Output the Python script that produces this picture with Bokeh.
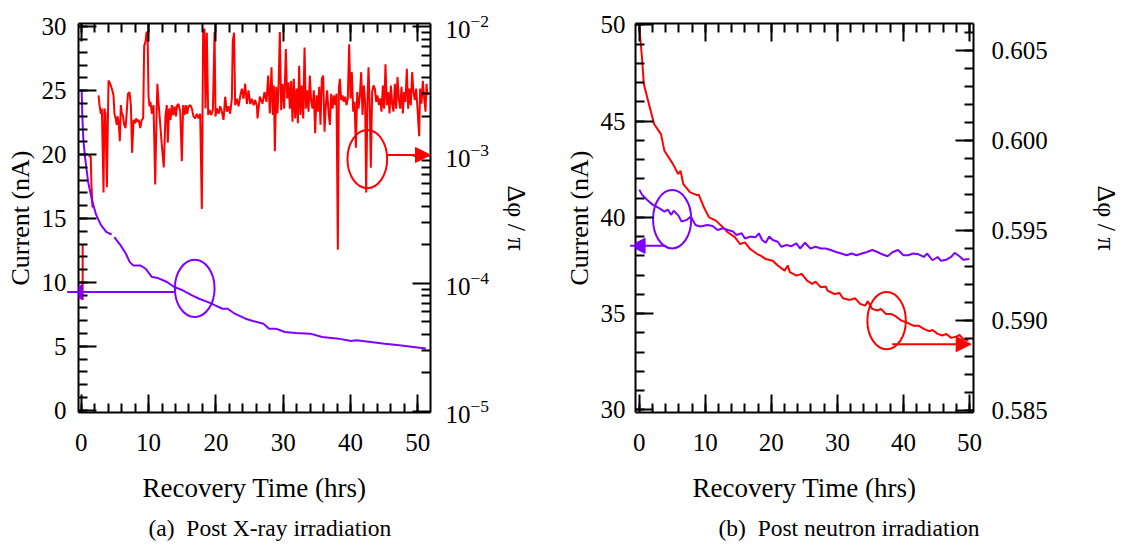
from bokeh.plotting import figure
from bokeh.layouts import row
from bokeh.models import (Range1d, LinearAxis, LogAxis, LogScale, FixedTicker, Title,
                          Arrow, NormalHead, NumeralTickFormatter, LogTickFormatter)
from bokeh.embed import file_html
from bokeh.resources import INLINE

nan = float("nan")

# ---------------- data: (a) post X-ray irradiation ----------------
xray_cur_t = [0.05, 0.15, 0.3, 0.55, 1.0, 1.6, 2.2, 2.9, 3.7, 4.5, nan,
              4.9, 5.84, 6.63, 7.2, 7.7, 8.76, 9.55, 10.5, 11.4, 12.74,
              13.8, 14.86, 16.45, 17.5, 18.84, 19.9, 20.97, 21.76, 22.8, 24.4,
              25.5, 27.07, 27.9, 28.9, 30.25, 31.85, 34.0, 35.8, 38.2, 40.1,
              40.87, 43.0, 45.1, 47.24, 49.36, 51.2]
xray_cur = [25.1, 23.0, 21.2, 19.8, 17.9, 16.4, 15.3, 14.5, 13.95, 13.75, nan,
            13.54, 12.9, 12.24, 11.59, 11.33, 11.33, 11.07, 10.42, 10.34, 10.03,
            9.64, 9.43, 8.98, 8.72, 8.46, 8.2, 7.94, 7.94, 7.55, 7.16,
            6.98, 6.77, 6.38, 6.38, 6.12, 6.04, 5.99, 5.73, 5.6, 5.42,
            5.47, 5.34, 5.2, 5.08, 4.95, 4.82]

xray_ph_t = [
    0.2, 0.2, nan, 1.07, 1.4, 1.5, 1.66, nan,
    2.56, 2.7, 2.9, 3.05, 3.3, 3.42, 3.6, 3.8, 4.04, 4.29,
    4.54, 4.78, 4.93, 5.1, 5.27, 5.4, 5.58, 5.72, 5.87, 6.02,
    6.17, 6.37, 6.57, 6.72, 6.92, 7.16, 7.36, 7.55, 7.76, 8.0,
    8.15, 8.35, 8.55, 8.75, 8.99, 9.19, 9.34, 9.54, 9.69, 9.84,
    9.99, 10.13, 10.28, 10.48, 10.73, 10.98, 11.17, 11.3, 11.47, 12.0,
    12.25, 12.5, 12.7, 12.85, 13.05, 13.25, 13.45, 13.65, 13.85, 14.05,
    14.25, 14.44, 14.7, 14.94, 15.13, 15.33, 15.53, 15.73, 15.93, 16.2,
    16.42, 16.67, 16.92, 17.17, 17.42, 17.66, 17.91, 18.1, 18.3, 18.45,
    18.65, 18.85, 19.05, 19.3, 19.55, 19.8, 19.94, 20.13, 20.4, 20.63,
    20.88, 21.13, 21.38, 21.62, 21.87, 22.12, 22.37, 22.5, 22.7, 22.86,
    23.1, 23.36, 23.6, 23.85, 24.1, 24.35, 24.6, 24.84, 25.1, 25.34,
    25.6, 25.83, 26.1, 26.18, 26.53, 26.93, 27.22, 27.52, 27.77, 28.02,
    28.26, 28.46, 28.61, 28.76, 28.96, 29.15, 29.3, 29.5, 29.7, 29.9,
    30.15, 30.39, 30.59, 30.79, 30.99, 31.19, 31.38, 31.58, 31.78, 31.98,
    32.18, 32.37, 32.57, 32.77, 32.97, 33.17, 33.36, 33.56, 33.76, 33.96,
    34.16, 34.36, 34.55, 34.75, 34.95, 35.15, 35.35, 35.54, 35.74, 35.94,
    36.14, 36.34, 36.53, 36.73, 36.93, 37.13, 37.33, 37.53, 37.72, 37.92,
    38.12, 38.27, 38.42, 38.62, 38.81, 39.01, 39.21, 39.41, 39.6, 39.8,
    40.0, 40.2, 40.4, 40.6, 40.8, 41.0, 41.19, 41.39, 41.59, 41.79,
    41.98, 42.18, 42.33, 42.53, 42.68, 42.87, 43.02, 43.22, 43.42, 43.62,
    43.82, 44.01, 44.21, 44.41, 44.61, 44.81, 45.0, 45.2, 45.4, 45.6,
    45.8, 46.0, 46.19, 46.39, 46.59, 46.79, 46.99, 47.18, 47.38, 47.58,
    47.78, 47.97, 48.17, 48.37, 48.57, 48.77, 48.97, 49.16, 49.36, 49.56,
    49.76, 49.96, 50.2, 50.35, 50.55, 50.75, 50.95, 51.15, 51.3, 51.44,
]
xray_ph = [
    2.0e-4, 7.4e-5, nan, 9.8e-4, 9.8e-4, 5.9e-4, 3.9e-4, nan,
    2.92e-3, 2.45e-3, 2.1e-3, 2.31e-3, 5.1e-4, 2.31e-3, 2.1e-3, 5.6e-4, 3.82e-3, 3.6e-3,
    3.29e-3, 2.92e-3, 2.1e-3, 1.93e-3, 1.72e-3, 2.0e-3, 1.72e-3, 1.28e-3, 2.45e-3, 2.1e-3,
    2.05e-3, 1.72e-3, 1.62e-3, 2.05e-3, 3.0e-3, 3.1e-3, 2.45e-3, 1.04e-3, 1.88e-3, 1.77e-3,
    1.93e-3, 1.82e-3, 1.88e-3, 1.62e-3, 1.88e-3, 1.93e-3, 7.1e-3, 7.7e-3, 9.1e-3, 9.0e-3,
    2.85e-3, 2.4e-3, 2.6e-3, 2.1e-3, 2.45e-3, 5.9e-4, 1.93e-3, 3.6e-3, 2.6e-3, 1.13e-3,
    8.0e-4, 2.0e-3, 2.45e-3, 1.25e-3, 2.31e-3, 1.88e-3, 2.45e-3, 2.05e-3, 2.4e-3, 2.0e-3,
    2.45e-3, 2.5e-3, 2.18e-3, 8.95e-4, 2.45e-3, 2.05e-3, 2.45e-3, 2.1e-3, 2.4e-3, 2.45e-3,
    2.31e-3, 2.0e-3, 1.93e-3, 2.1e-3, 1.93e-3, 2.1e-3, 3.8e-4, 8.8e-3, 9.7e-3, 2.31e-3,
    9.0e-3, 2.05e-3, 2.25e-3, 2.05e-3, 2.25e-3, 9.1e-3, 2.0e-3, 2.31e-3, 2.1e-3, 2.4e-3,
    2.18e-3, 1.88e-3, 2.85e-3, 2.18e-3, 2.4e-3, 2.1e-3, 2.75e-3, 7.7e-3, 9.0e-3, 2.45e-3,
    2.75e-3, 2.4e-3, 2.85e-3, 3.29e-3, 2.75e-3, 3.6e-3, 2.5e-3, 3.2e-3, 2.5e-3, 2.75e-3,
    2.45e-3, 2.68e-3, 2.4e-3, 1.93e-3, 2.85e-3, 2.52e-3, 3.1e-3, 2.6e-3, 4.17e-3, 2.11e-3,
    4.83e-3, 2.05e-3, 3.49e-3, 1.07e-3, 3.4e-3, 2.11e-3, 3.3e-3, 9.1e-3, 2.24e-3, 3.6e-3,
    2.3e-3, 6.7e-3, 2.76e-3, 3.7e-3, 2.3e-3, 3.8e-3, 1.82e-3, 3.93e-3, 1.93e-3, 3.3e-3,
    1.77e-3, 4.98e-3, 2.05e-3, 3.49e-3, 1.93e-3, 6.9e-3, 2.3e-3, 3.2e-3, 2.18e-3, 4.17e-3,
    2.6e-3, 2.3e-3, 3.2e-3, 1.48e-3, 2.92e-3, 2.18e-3, 3.4e-3, 1.72e-3, 3.93e-3, 4.17e-3,
    1.52e-3, 2.45e-3, 3.2e-3, 2.18e-3, 1.72e-3, 3.01e-3, 2.3e-3, 2.92e-3, 2.45e-3, 3.01e-3,
    1.82e-4, 3.3e-3, 3.93e-3, 2.68e-3, 2.92e-3, 2.6e-3, 2.85e-3, 2.45e-3, 2.76e-3, 7.3e-3,
    2.76e-3, 4.43e-3, 2.18e-3, 2.6e-3, 1.14e-3, 3.1e-3, 2.3e-3, 2.92e-3, 4.43e-3, 2.05e-3,
    3.49e-3, 2.52e-3, 5.1e-4, 2.76e-3, 4.83e-3, 2.3e-3, 7.96e-4, 3.1e-3, 3.49e-3, 3.3e-3,
    2.6e-3, 2.92e-3, 2.45e-3, 2.76e-3, 2.18e-3, 3.49e-3, 2.3e-3, 5.1e-3, 2.45e-3, 3.1e-3,
    2.11e-3, 3.49e-3, 2.52e-3, 2.18e-3, 3.6e-3, 2.3e-3, 4.05e-3, 2.76e-3, 2.3e-3, 3.4e-3,
    2.11e-3, 3.1e-3, 2.6e-3, 4.7e-3, 2.3e-3, 3.3e-3, 2.45e-3, 4.43e-3, 3.1e-3, 2.68e-3,
    3.3e-3, 2.3e-3, 1.4e-3, 3.3e-3, 2.52e-3, 3.8e-3, 2.76e-3, 2.18e-3, 3.6e-3, 2.92e-3,
]

# ---------------- data: (b) post neutron irradiation ----------------
neut_cur_t = [0, 0.4, 1.2, 2.0, 3.0, 3.8, 4.3, 4.84, 5.2, 5.9,
              6.4, 7.2, 7.8, 8.5, 9.26, 10.3, 11.1, 11.86, 12.64, 13.42,
              14.2, 14.7, 15.5, 16.0, 16.8, 17.6, 18.1, 18.6, 19.15, 19.67,
              20.2, 20.97, 21.5, 22.27, 23.05, 23.8, 24.35, 25.1, 25.9, 26.7,
              27.5, 28.25, 29.0, 29.8, 30.6, 31.4, 32.15, 32.9, 33.7, 34.5,
              35.3, 36.06, 36.8, 37.6, 38.4, 39.2, 40.0, 40.7, 41.5, 42.3,
              43.1, 43.6, 44.4, 45.2, 45.7, 46.5, 47.24, 47.76, 48.5, 49.06,
              50.0]
neut_cur = [41.44, 41.18, 40.9, 40.66, 40.48, 40.3, 40.4, 40.13, 40.34, 40.1,
            39.78, 39.87, 40.04, 39.6, 39.52, 39.6, 39.55, 39.34, 39.43, 39.34,
            39.26, 39.08, 39.17, 38.9, 39.0, 38.96, 39.17, 38.82, 38.68, 39.0,
            38.82, 38.73, 38.47, 38.56, 38.5, 38.65, 38.38, 38.68, 38.38, 38.47,
            38.38, 38.38, 38.3, 38.2, 38.12, 38.03, 38.12, 38.03, 38.12, 38.2,
            38.3, 38.2, 38.08, 37.98, 38.2, 38.3, 38.03, 38.03, 38.12, 38.08,
            37.94, 38.12, 37.77, 37.94, 37.74, 37.8, 37.94, 38.15, 37.98, 37.8,
            37.84]

neut_ph_t = [0, 0.4, 0.68, 1.2, 2.24, 3.28, 3.8, 5.1, 5.88, 6.24,
             6.66, 7.7, 8.74, 9.0, 9.78, 10.56, 11.6, 12.4, 13.4, 14.5,
             15.24, 16.0, 16.8, 17.85, 18.4, 19.1, 20.2, 20.97, 22.0, 22.5,
             22.8, 23.8, 24.6, 25.4, 26.2, 26.7, 27.5, 28.25, 28.5, 29.55,
             30.3, 30.85, 31.9, 32.7, 33.45, 34.2, 34.6, 35.3, 36.06, 36.6,
             37.36, 38.1, 38.66, 39.7, 40.48, 41.5, 42.3, 43.1, 43.86, 44.4,
             45.2, 45.9, 46.5, 47.24, 48.0, 48.5, 49.06, 49.85]
neut_ph = [0.60630, 0.60463, 0.60315, 0.60241, 0.60093, 0.60037, 0.59944, 0.5987, 0.59815, 0.59833,
           0.59759, 0.59713, 0.59698, 0.597, 0.5963, 0.59574, 0.59556, 0.59528, 0.59491, 0.59463,
           0.59426, 0.59435, 0.59398, 0.5937, 0.59361, 0.59343, 0.59333, 0.59306, 0.59278, 0.59306,
           0.59269, 0.5925, 0.5926, 0.59222, 0.59204, 0.59217, 0.59185, 0.59189, 0.59167, 0.59148,
           0.59154, 0.59124, 0.59115, 0.59124, 0.59093, 0.59083, 0.59107, 0.59065, 0.59056, 0.59065,
           0.59037, 0.59037, 0.59028, 0.59, 0.5899, 0.58972, 0.58972, 0.58954, 0.58941, 0.58948,
           0.58926, 0.58917, 0.58926, 0.58904, 0.58911, 0.5892, 0.58898, 0.58889]

assert len(xray_cur_t) == len(xray_cur)
assert len(xray_ph_t) == len(xray_ph)
assert len(neut_cur_t) == len(neut_cur)
assert len(neut_ph_t) == len(neut_ph)

# tick positions and texts
x_major = [0, 10, 20, 30, 40, 50]
x_minor = list(range(0, 53, 2))
xray_y_major = [0, 5, 10, 15, 20, 25, 30]
xray_y_minor = list(range(0, 31))
log_major = [1e-5, 1e-4, 1e-3, 1e-2]
log_minor = [m * 10.0 ** e for e in (-5, -4, -3) for m in range(2, 10)]
neut_y_major = [30, 35, 40, 45, 50]
neut_y_minor = list(range(30, 51))
ph_major = [0.585, 0.590, 0.595, 0.600, 0.605]
ph_minor = [0.585 + 0.001 * i for i in range(22)]

x_label = "Recovery Time (hrs)"
cur_label = "Current (nA)"
ph_label = "Δφ / π"
caption_a = "(a)\u00a0\u00a0Post X-ray irradiation"
caption_b = "(b)\u00a0\u00a0Post neutron irradiation"

FONT = "Liberation Serif"
RED = "#ff0000"
PURPLE = "#8000ff"
TICK_FS = "25px"
YLABEL_FS = "26px"
XLABEL_FS = "27px"
CAP_FS = "23.5px"


def style_axis(ax, labels=True, standoff=12, label=None, label_standoff=5, label_fs=YLABEL_FS):
    ax.axis_line_width = 2
    ax.axis_line_color = "black"
    ax.major_tick_in = 18
    ax.major_tick_out = 0
    ax.minor_tick_in = 9
    ax.minor_tick_out = 0
    ax.major_tick_line_width = 2
    ax.minor_tick_line_width = 2
    ax.major_tick_line_color = "black"
    ax.minor_tick_line_color = "black"
    ax.major_label_text_font = FONT
    ax.major_label_text_color = "black"
    ax.major_label_text_font_size = TICK_FS
    ax.major_label_standoff = standoff
    if not labels:
        ax.major_label_overrides = {t: "" for t in x_major}
        ax.major_label_standoff = 0
    if label is not None:
        ax.axis_label = label
        ax.axis_label_text_font = FONT
        ax.axis_label_text_font_size = label_fs
        ax.axis_label_text_font_style = "normal"
        ax.axis_label_text_color = "black"
        ax.axis_label_standoff = label_standoff


def make_fig(width, xr, yr, bl, br, caption, cap_offset):
    p = figure(width=width, height=547, x_range=xr, y_range=yr,
               output_backend="svg", toolbar_location=None,
               x_axis_location=None, y_axis_location=None,
               min_border_left=bl, min_border_right=br,
               min_border_top=23, min_border_bottom=135)
    p.grid.visible = False
    p.outline_line_color = None
    p.background_fill_color = "white"
    p.border_fill_color = "white"
    xb = LinearAxis(ticker=FixedTicker(ticks=x_major, minor_ticks=x_minor))
    style_axis(xb, True, 21, x_label, 19, XLABEL_FS)
    xb.major_label_text_line_height = 1.0
    xb.axis_label_text_line_height = 1.0
    p.add_layout(xb, "below")
    xa = LinearAxis(ticker=FixedTicker(ticks=x_major, minor_ticks=x_minor))
    style_axis(xa, False)
    p.add_layout(xa, "above")
    cap = Title(text=caption, align="left", offset=cap_offset, standoff=14,
                text_font=FONT, text_font_size=CAP_FS, text_font_style="normal",
                text_color="black", text_line_height=1.0)
    p.add_layout(cap, "below")
    return p


# ---------------- figure (a) ----------------
p1 = make_fig(548, Range1d(-0.42, 51.89), Range1d(-0.18, 30.26), 78, 118, caption_a, 70)
yl1 = LinearAxis(ticker=FixedTicker(ticks=xray_y_major, minor_ticks=xray_y_minor))
style_axis(yl1, True, 12, cur_label, 4)
p1.add_layout(yl1, "left")
p1.extra_y_ranges = {"log": Range1d(9.8e-6, 1.062e-2)}
p1.extra_y_scales = {"log": LogScale()}
yr1 = LogAxis(y_range_name="log", ticker=FixedTicker(ticks=log_major, minor_ticks=log_minor),
              formatter=LogTickFormatter())
style_axis(yr1, True, 15, ph_label, 10)
p1.add_layout(yr1, "right")

p1.line(xray_ph_t, xray_ph, line_color=RED, line_width=2, y_range_name="log")
p1.line(xray_cur_t, xray_cur, line_color=PURPLE, line_width=2)

p1.ellipse(x=[16.85], y=[9.53], width=[5.9], height=[4.48], fill_color=None,
           line_color=PURPLE, line_width=2)
p1.ellipse(x=[42.5], y=[19.65], width=[5.9], height=[4.55], fill_color=None,
           line_color=RED, line_width=2)
p1.add_layout(Arrow(end=NormalHead(size=15, fill_color=PURPLE, line_color=PURPLE),
                    x_start=13.9, y_start=9.24, x_end=-2.1, y_end=9.24,
                    line_color=PURPLE, line_width=2))
p1.add_layout(Arrow(end=NormalHead(size=15, fill_color=RED, line_color=RED),
                    x_start=45.5, y_start=19.97, x_end=51.89, y_end=19.97,
                    line_color=RED, line_width=2))

# ---------------- figure (b) ----------------
p2 = make_fig(575, Range1d(-0.58, 50.62), Range1d(29.86, 50.07), 87, 135, caption_b, 83)
yl2 = LinearAxis(ticker=FixedTicker(ticks=neut_y_major, minor_ticks=neut_y_minor))
style_axis(yl2, True, 10, cur_label, 4)
p2.add_layout(yl2, "left")
p2.extra_y_ranges = {"ph": Range1d(0.58489, 0.60652)}
yr2 = LinearAxis(y_range_name="ph", ticker=FixedTicker(ticks=ph_major, minor_ticks=ph_minor),
                 formatter=NumeralTickFormatter(format="0.000"))
style_axis(yr2, True, 18, ph_label, 41)
p2.add_layout(yr2, "right")

p2.line(neut_ph_t, neut_ph, line_color=RED, line_width=2, y_range_name="ph")
p2.line(neut_cur_t, neut_cur, line_color=PURPLE, line_width=2)

p2.ellipse(x=[4.97], y=[39.9], width=[5.78], height=[3.03], fill_color=None,
           line_color=PURPLE, line_width=2)
p2.ellipse(x=[37.46], y=[34.63], width=[5.83], height=[2.97], fill_color=None,
           line_color=RED, line_width=2)
p2.add_layout(Arrow(end=NormalHead(size=15, fill_color=PURPLE, line_color=PURPLE),
                    x_start=4.06, y_start=38.52, x_end=-1.4, y_end=38.52,
                    line_color=PURPLE, line_width=2))
p2.add_layout(Arrow(end=NormalHead(size=15, fill_color=RED, line_color=RED),
                    x_start=38.3, y_start=33.41, x_end=50.26, y_end=33.41,
                    line_color=RED, line_width=2))

layout = row(p1, p2)
open("out.html", "w").write(file_html(layout, INLINE))
